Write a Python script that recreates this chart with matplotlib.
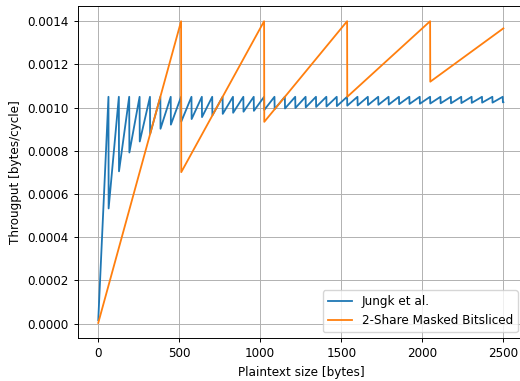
import matplotlib
matplotlib.use("Agg")
import matplotlib.pyplot as plt

# Jungk et al.: vertices of the sawtooth (peaks at block ends, troughs right after)
jungk_x = [1, 64, 65, 128, 129, 192, 193, 256, 257, 320, 321, 384, 385, 448, 449, 512,
           513, 576, 577, 640, 641, 704, 705, 768, 769, 832, 833, 896, 897, 960, 961, 1024,
           1025, 1088, 1089, 1152, 1153, 1216, 1217, 1280, 1281, 1344, 1345, 1408, 1409, 1472,
           1473, 1536, 1537, 1600, 1601, 1664, 1665, 1728, 1729, 1792, 1793, 1856, 1857, 1920,
           1921, 1984, 1985, 2048, 2049, 2112, 2113, 2176, 2177, 2240, 2241, 2304, 2305, 2368,
           2369, 2432, 2433, 2496, 2497, 2500]
jungk_y = [0.000016, 0.00105, 0.000533, 0.00105, 0.000705, 0.00105, 0.000792, 0.00105,
           0.000843, 0.00105, 0.000878, 0.00105, 0.000902, 0.00105, 0.000921, 0.00105,
           0.000935, 0.00105, 0.000947, 0.00105, 0.000956, 0.00105, 0.000964, 0.00105,
           0.000971, 0.00105, 0.000976, 0.00105, 0.000981, 0.00105, 0.000985, 0.00105,
           0.000989, 0.00105, 0.000993, 0.00105, 0.000996, 0.00105, 0.000998, 0.00105,
           0.001001, 0.00105, 0.001003, 0.00105, 0.001005, 0.00105, 0.001007, 0.00105,
           0.001009, 0.00105, 0.001010, 0.00105, 0.001012, 0.00105, 0.001013, 0.00105,
           0.001014, 0.00105, 0.001016, 0.00105, 0.001017, 0.00105, 0.001018, 0.00105,
           0.001019, 0.00105, 0.001020, 0.00105, 0.001020, 0.00105, 0.001021, 0.00105,
           0.001022, 0.00105, 0.001023, 0.00105, 0.001023, 0.00105, 0.001024, 0.001025]

# 2-Share Masked Bitsliced
masked_x = [1, 512, 513, 1024, 1025, 1536, 1537, 2048, 2049, 2500]
masked_y = [0.000003, 0.0014, 0.000701, 0.0014, 0.000934, 0.0014, 0.00105, 0.0014,
            0.00112, 0.001367]

labels = ["Jungk et al.", "2-Share Masked Bitsliced"]

s = 0.868
plt.rcParams.update({
    "font.size": 10 * s,
    "lines.linewidth": 1.5 * s,
    "axes.linewidth": 0.8 * s,
    "grid.linewidth": 0.8 * s,
    "xtick.major.size": 3.5 * s,
    "ytick.major.size": 3.5 * s,
    "xtick.major.width": 0.8 * s,
    "ytick.major.width": 0.8 * s,
    "legend.fontsize": 10 * s,
})

fig = plt.figure(figsize=(5.2, 3.81), dpi=100)
ax = fig.add_axes([0.15, 0.1129, 0.857, 0.871])
ax.plot(jungk_x, jungk_y, color="#1f77b4", label=labels[0])
ax.plot(masked_x, masked_y, color="#ff7f0e", label=labels[1])
ax.set_xlabel("Plaintext size [bytes]")
ax.set_ylabel("Througput [bytes/cycle]")
ax.set_xticks([0, 500, 1000, 1500, 2000, 2500])
ax.set_yticks([0.0, 0.0002, 0.0004, 0.0006, 0.0008, 0.0010, 0.0012, 0.0014])
ax.yaxis.set_major_formatter(matplotlib.ticker.FormatStrFormatter("%.4f"))
ax.spines["right"].set_visible(False)
ax.grid(True)
ax.legend(loc="lower right")
fig.savefig("out.png", dpi=100)
